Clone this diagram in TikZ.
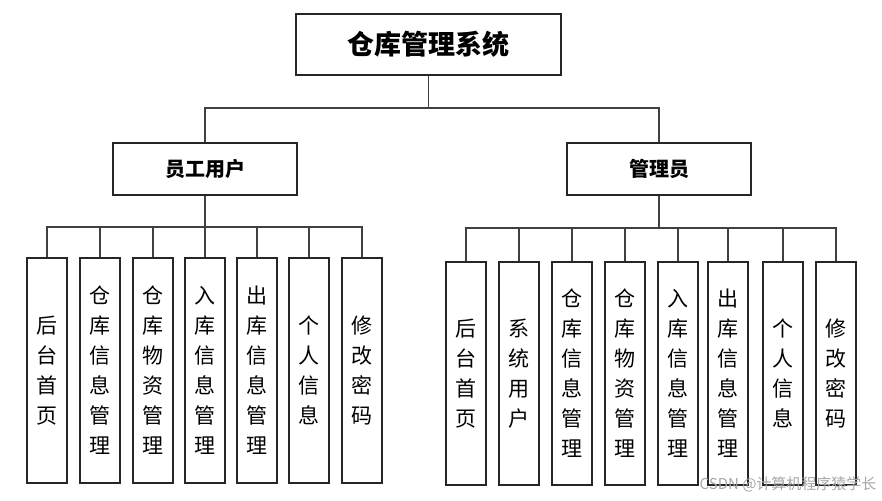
\documentclass[tikz,border=0pt]{standalone}
\usepackage{fontspec}
\newfontfamily\cjk{Noto Sans CJK SC}
\begin{document}
\begin{tikzpicture}[x=1pt,y=-1pt,
  box/.style={draw=black!85,line width=1.6pt,fill=white,inner sep=0pt,font=\cjk},
  leaf/.style={box,minimum width=40pt,minimum height=225pt,align=center,font=\cjk\fontsize{21}{30}\selectfont},
  wire/.style={draw=black!75,line width=1.6pt}]
\useasboundingbox (0,0) rectangle (882,500);
\node[box,minimum width=265pt,minimum height=61pt,font=\cjk\bfseries\fontsize{27}{30}\selectfont] (root) at (428.5,44.5) {仓库管理系统};
\node[box,minimum width=184pt,minimum height=52pt,font=\cjk\bfseries\fontsize{20}{24}\selectfont] (emp) at (205,169) {员工用户};
\node[box,minimum width=184pt,minimum height=52pt,font=\cjk\bfseries\fontsize{20}{24}\selectfont] (adm) at (659,169) {管理员};
\coordinate (rj) at (428.5,108);
\draw[wire] (root.south) -- (rj);
\draw[wire] (rj) -| (emp.north);
\draw[wire] (rj) -| (adm.north);
\foreach \n/\x/\t in {l1/47/后\\台\\首\\页, l2/100/仓\\库\\信\\息\\管\\理, l3/153/仓\\库\\物\\资\\管\\理, l4/205/入\\库\\信\\息\\管\\理, l5/257/出\\库\\信\\息\\管\\理, l6/309/个\\人\\信\\息, l7/362/修\\改\\密\\码}{
  \node[leaf] (\n) at (\x,370.5) {\t};
}
\coordinate (lj) at (205,227);
\draw[wire] (emp.south) -- (lj);
\foreach \n in {l1,l2,l3,l4,l5,l6,l7}{\draw[wire] (lj) -| (\n.north);}
\foreach \n/\x/\t in {r1/466/后\\台\\首\\页, r2/519/系\\统\\用\\户, r3/572/仓\\库\\信\\息\\管\\理, r4/625/仓\\库\\物\\资\\管\\理, r5/678/入\\库\\信\\息\\管\\理, r6/728/出\\库\\信\\息\\管\\理, r7/783/个\\人\\信\\息, r8/836/修\\改\\密\\码}{
  \node[leaf,minimum height=223pt] (\n) at (\x,373.5) {\t};
}
\coordinate (rj2) at (659,228);
\draw[wire] (adm.south) -- (rj2);
\foreach \n in {r1,r2,r3,r4,r5,r6,r7,r8}{\draw[wire] (rj2) -| (\n.north);}
\node[font=\cjk\fontsize{15}{17}\selectfont,text=black!35,anchor=east] (wm) at (880,484) {CSDN @计算机程序猿学长};
\end{tikzpicture}
\end{document}
